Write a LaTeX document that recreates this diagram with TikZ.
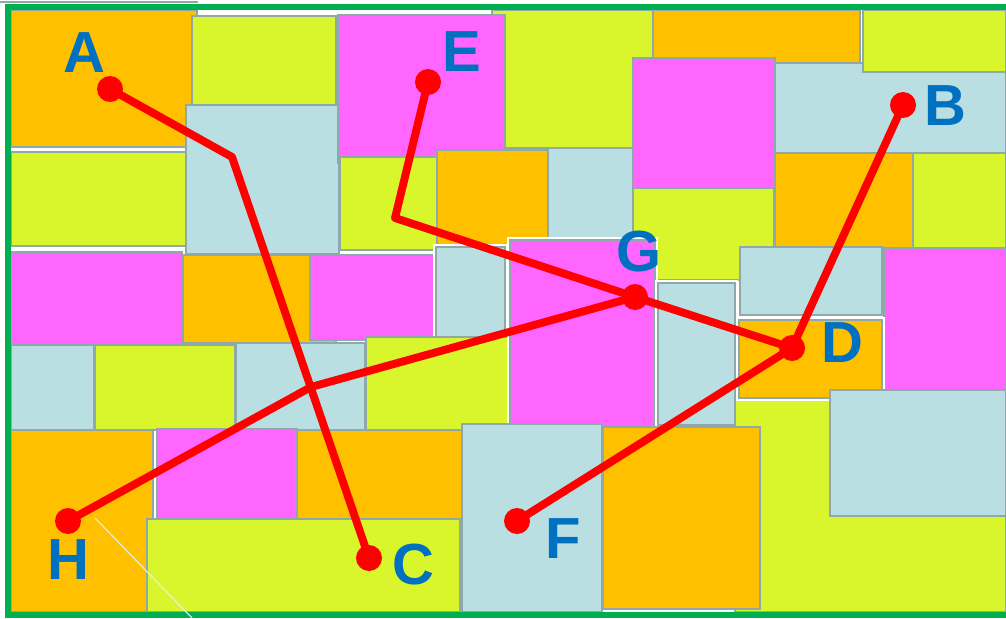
\documentclass[tikz,border=0pt]{standalone}
\usepackage{fontspec}
\setmainfont{Liberation Sans}
\usetikzlibrary{positioning}
\definecolor{tileorange}{HTML}{FFC000}
\definecolor{tileyellow}{HTML}{D9F52B}
\definecolor{tilepink}{HTML}{FF66FF}
\definecolor{tileblue}{HTML}{B9DFE2}
\definecolor{tileedge}{HTML}{8FA9AB}
\definecolor{framegreen}{HTML}{00B050}
\definecolor{tagblue}{HTML}{0070C0}

\begin{document}
\begin{tikzpicture}
    [x=0.02cm,y=-0.02cm,
     tile/.style={draw=tileedge, line width=0.6pt},
     plain/.style={},
     gap/.style={preaction={draw=white, line width=3.5pt}},
     route/.style={draw=red, line width=4.5pt, line join=round},
     city/.style={circle, fill=red, inner sep=0pt, minimum size=0.52cm},
     tag/.style={text=tagblue, inner sep=0pt, font=\bfseries\fontsize{33}{33}\selectfont}]
  \useasboundingbox (0,0) rectangle (1006,618);
  \fill[white] (0,0) rectangle (1006,618);

  % tiles, back to front
  \foreach \xa/\ya/\xb/\yb/\col/\sty in {
      11/10/197/147/tileorange/plain, 192/16/336/105/tileyellow/plain,
      11/152/186/246/tileyellow/plain, 186/105/339/254/tileblue/plain,
      11/252/182/345/tilepink/plain, 183/255/336/343/tileorange/plain,
      310/255/436/340/tilepink/plain, 11/345/94/430/tileblue/plain,
      95/345/235/430/tileyellow/plain, 236/343/365/430/tileblue/plain,
      11/430/153/612/tileorange/plain, 297/430/462/519/tileorange/plain,
      157/429/297/519/tilepink/plain, 147/519/460/612/tileyellow/plain,
      492/10/653/148/tileyellow/plain, 338/15/505/163/tilepink/plain,
      340/157/437/250/tileyellow/plain, 437/150/548/245/tileorange/plain,
      548/148/633/240/tileblue/plain, 653/10/860/63/tileorange/plain,
      775/63/1006/153/tileblue/plain, 863/10/1006/72/tileyellow/plain,
      633/58/775/188/tilepink/plain, 633/188/774/280/tileyellow/plain,
      775/153/913/248/tileorange/plain, 913/153/1006/248/tileyellow/plain,
      436/247/505/337/tileblue/gap, 366/337/510/430/tileyellow/plain,
      510/240/655/428/tilepink/gap, 740/247/882/315/tileblue/plain,
      658/283/735/425/tileblue/gap, 884/248/1006/390/tilepink/plain,
      735/400/1006/612/tileyellow/plain, 739/320/882/398/tileorange/gap,
      830/390/1006/516/tileblue/plain, 462/424/602/612/tileblue/plain,
      603/427/760/609/tileorange/plain}
    \draw[tile, fill=\col, \sty] (\xa,\ya) rectangle (\xb,\yb);

  \draw[tileedge, line width=0.6pt] (0,2) -- (198,2);
  \draw[framegreen, line width=3.4pt] (8,7) rectangle (1014,615);
  \draw[tileblue!40!white, line width=0.6pt] (95,518) -- (192,618);

  % places
  \coordinate (A) at (110,89);
  \coordinate (B) at (903,105);
  \coordinate (C) at (369,558);
  \coordinate (D) at (792,348);
  \coordinate (E) at (428,82);
  \coordinate (F) at (517,521);
  \coordinate (G) at (635,297);
  \coordinate (H) at (68,521);
  \coordinate (A-bend) at (232,157);
  \coordinate (E-bend) at (395,218);
  \coordinate (H-bend) at (311,387);

  \draw[route] (A) -- (A-bend) -- (C);
  \draw[route] (E) -- (E-bend) -- (G) -- (D);
  \draw[route] (H) -- (H-bend) -- (G);
  \foreach \from/\to in {B/D, D/F}
    \draw[route] (\from) -- (\to);

  \foreach \c in {A,B,C,D,E,F,G,H}
    \node[city] (\c-dot) at (\c) {};

  \node[tag] (A-tag) at (84,53) {A};
  \node[tag] (B-tag) at (945,106) {B};
  \node[tag] (C-tag) at (413,565) {C};
  \node[tag] (D-tag) at (842,343) {D};
  \node[tag] (E-tag) at (462,52) {E};
  \node[tag] (F-tag) at (563,539) {F};
  \node[tag] (G-tag) at (639,252) {G};
  \node[tag] (H-tag) at (68,560) {H};
\end{tikzpicture}
\end{document}
